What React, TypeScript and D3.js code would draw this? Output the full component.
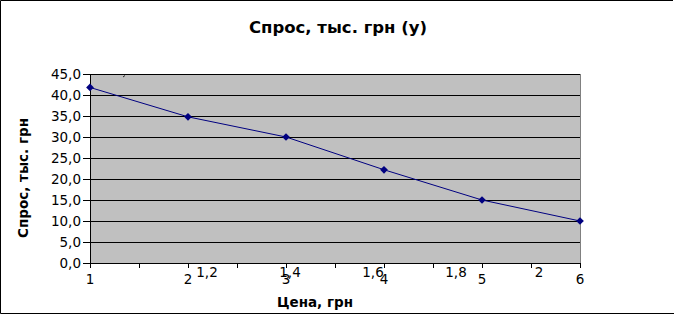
import React from "react";
import * as d3 from "d3";

const prices = [1, 2, 3, 4, 5, 6];
const demand = [41.8, 34.8, 30.0, 22.2, 15.0, 10.0];
const yTicks = [0, 5, 10, 15, 20, 25, 30, 35, 40, 45];
const xMinorTicks = [1, 1.5, 2, 2.5, 3, 3.5, 4, 4.5, 5, 5.5, 6];
const secondaryLabels = ["1,2", "1,4", "1,6", "1,8", "2"];
const secondaryValues = [1.2, 1.4, 1.6, 1.8, 2.0];

const W = 676;
const H = 315;
const plot = { left: 90, right: 580, top: 74, bottom: 263 };

export default function App() {
  const x = d3.scaleLinear().domain([1, 6]).range([plot.left, plot.right]);
  const y = d3.scaleLinear().domain([0, 45]).range([plot.bottom, plot.top]);
  const x2 = d3.scaleLinear().domain([1, 2]).range([124, 539]);
  const line = d3
    .line<number>()
    .x((_, i) => x(prices[i]))
    .y((d) => y(d));
  const diamond = d3.symbol().type(d3.symbolSquare).size(30)() as string;
  const font = "DejaVu Sans, Verdana, sans-serif";
  const fmt = (v: number) => v.toFixed(1).replace(".", ",");

  return (
    <svg
      width={W}
      height={H}
      style={{ position: "absolute", left: 0, top: 0, background: "#fff" }}
      fontFamily={font}
    >
      <rect x={0} y={0} width={W} height={H} fill="#fff" />
      <path d={`M0.5,${H - 1.5}V0.5H${W - 3}`} fill="none" stroke="#000" />
      <path d={`M0.5,${H - 1.5}H${W - 2}`} fill="none" stroke="#000" />

      <text x={338} y={33} textAnchor="middle" fontSize={16.5} fontWeight="bold">
        Спрос, тыс. грн (y)
      </text>

      <rect
        x={plot.left}
        y={plot.top}
        width={plot.right - plot.left}
        height={plot.bottom - plot.top}
        fill="#c0c0c0"
      />
      {yTicks.map((t) => (
        <line
          key={"g" + t}
          x1={plot.left - 7}
          x2={plot.right}
          y1={Math.round(y(t)) + 0.5}
          y2={Math.round(y(t)) + 0.5}
          stroke="#000"
        />
      ))}
      <line
        x1={plot.right + 0.5}
        x2={plot.right + 0.5}
        y1={plot.top}
        y2={plot.bottom}
        stroke="#808080"
      />
      <line
        x1={plot.left + 0.5}
        x2={plot.left + 0.5}
        y1={plot.top}
        y2={plot.bottom + 5}
        stroke="#000"
      />
      {xMinorTicks.map((t) => (
        <line
          key={"xt" + t}
          x1={Math.round(x(t)) + 0.5}
          x2={Math.round(x(t)) + 0.5}
          y1={plot.bottom}
          y2={plot.bottom + 5}
          stroke="#000"
        />
      ))}
      <path d="M123,77L125,75.5" stroke="#000" strokeWidth={0.8} />

      {yTicks.map((t) => (
        <text
          key={"yl" + t}
          x={81}
          y={y(t) + 5}
          textAnchor="end"
          fontSize={13.5}
        >
          {fmt(t)}
        </text>
      ))}
      {prices.map((p) => (
        <text key={"xl" + p} x={x(p)} y={284} textAnchor="middle" fontSize={13.5}>
          {p}
        </text>
      ))}
      {secondaryValues.map((v, i) => (
        <text
          key={"x2" + v}
          x={x2(v)}
          y={277}
          textAnchor="middle"
          fontSize={13.5}
        >
          {secondaryLabels[i]}
        </text>
      ))}

      <text
        transform={`translate(28,178) rotate(-90)`}
        textAnchor="middle"
        fontSize={13.5}
        fontWeight="bold"
      >
        Спрос, тыс. грн
      </text>
      <text x={315} y={307} textAnchor="middle" fontSize={13.5} fontWeight="bold">
        Цена, грн
      </text>

      <path d={line(demand) as string} fill="none" stroke="#000080" strokeWidth={1} />
      {demand.map((d, i) => (
        <path
          key={"m" + i}
          d={diamond}
          transform={`translate(${x(prices[i])},${y(d)}) rotate(45)`}
          fill="#000080"
        />
      ))}
    </svg>
  );
}
